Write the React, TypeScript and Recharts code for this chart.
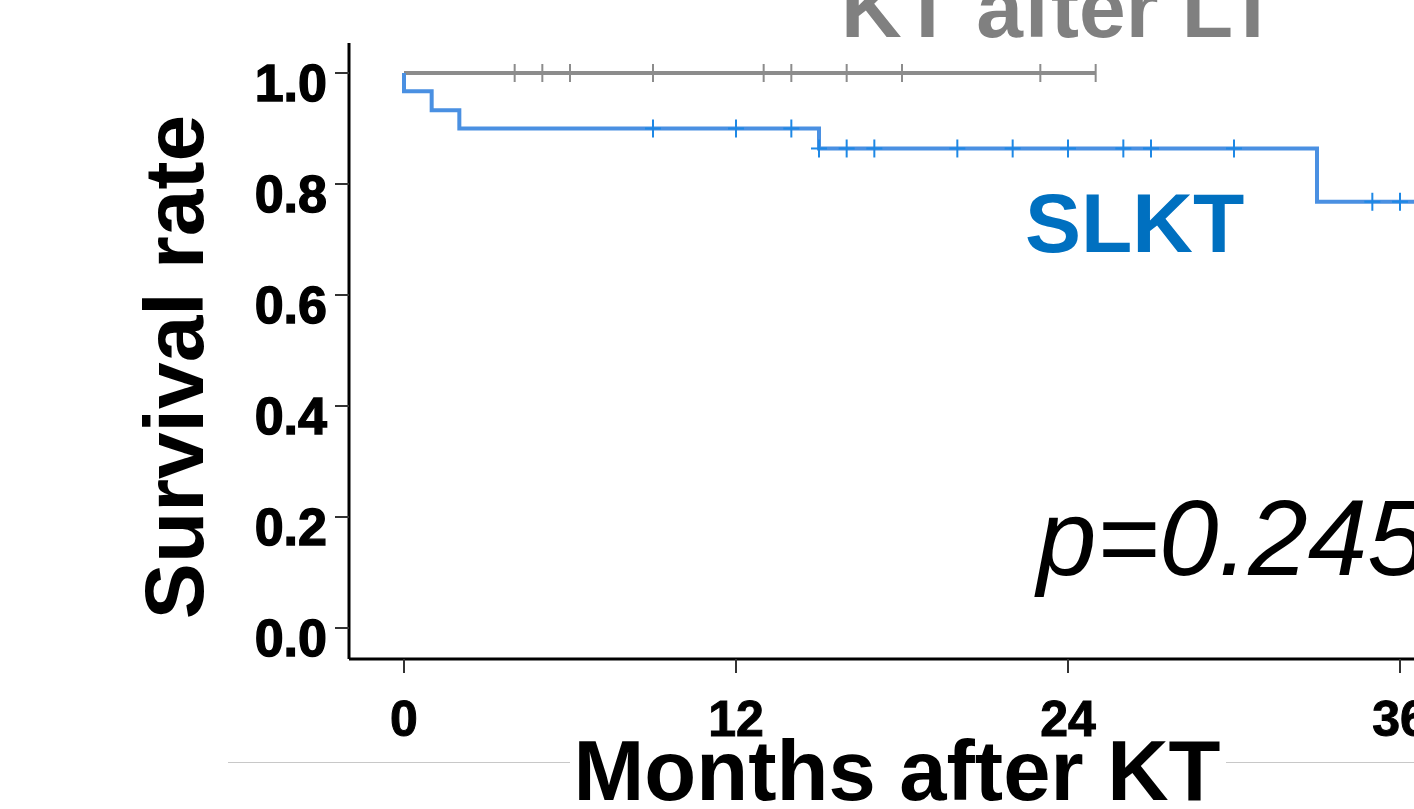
import React from "react";
import { ComposedChart, Line, Scatter, XAxis, YAxis } from "recharts";

// Kaplan-Meier step points (months, survival)
const slktTimes = [0, 0, 1, 2, 15, 33, 37];
const slktSurv = [1.0, 0.967, 0.933, 0.9, 0.864, 0.768, 0.768];
const slktCensor = [9, 12, 14, 15, 16, 17, 20, 22, 24, 26, 27, 30, 35, 36];

const ktltTimes = [0, 25];
const ktltSurv = [1.0, 1.0];
const ktltCensor = [4, 5, 6, 9, 13, 14, 16, 18, 23, 25];

const xTicks = [0, 12, 24, 36, 48];
const yTicks = [0, 0.2, 0.4, 0.6, 0.8, 1.0];

const FONT = "'Liberation Sans', Arial, sans-serif";
const BLUE = "#4A90E2";
const BLUE_TICK = "#1E88E5";
const GRAY = "#8C8C8C";

const toSteps = (ts: number[], ss: number[]) => ts.map((t, i) => ({ t, s: ss[i] }));
const survAt = (ts: number[], ss: number[], t: number) => {
  let v = ss[0];
  for (let i = 0; i < ts.length; i++) if (ts[i] <= t) v = ss[i];
  return v;
};

const slktData = toSteps(slktTimes, slktSurv);
const ktltData = toSteps(ktltTimes, ktltSurv);
const slktCensorData = slktCensor.map((t) => ({ t, s: survAt(slktTimes, slktSurv, t) }));
const ktltCensorData = ktltCensor.map((t) => ({ t, s: survAt(ktltTimes, ktltSurv, t) }));

const PlusMark = (props: any) => {
  const { cx, cy } = props;
  return (
    <g>
      <line x1={cx} y1={cy - 9} x2={cx} y2={cy + 9} stroke={BLUE_TICK} strokeWidth={2} />
      <line x1={cx - 8} y1={cy} x2={cx + 8} y2={cy} stroke={BLUE_TICK} strokeWidth={2} />
    </g>
  );
};

const VMark = (props: any) => {
  const { cx, cy } = props;
  return <line x1={cx} y1={cy - 9} x2={cx} y2={cy + 9} stroke={GRAY} strokeWidth={2} />;
};

const YTick = (props: any) => {
  const { x, y, payload } = props;
  return (
    <text
      x={x - 6}
      y={y + 10 + 18}
      textAnchor="end"
      fontFamily={FONT}
      fontWeight="bold"
      fontSize={52}
      fill="#000"
      stroke="#000"
      strokeWidth={1.4}
    >
      {Number(payload.value).toFixed(1)}
    </text>
  );
};

const XTick = (props: any) => {
  const { x, y, payload } = props;
  return (
    <text
      x={x}
      y={y + 61}
      textAnchor="middle"
      fontFamily={FONT}
      fontWeight="bold"
      fontSize={50}
      fill="#000"
      stroke="#000"
      strokeWidth={1}
    >
      {payload.value}
    </text>
  );
};

export default function App() {
  return (
    <div style={{ position: "fixed", left: 0, top: 0, width: 1414, height: 809, overflow: "hidden", background: "#fff" }}>
      <div style={{ position: "absolute", left: 0, top: 0 }}>
        <ComposedChart width={1760} height={809} margin={{ top: 43, right: 28, bottom: 0, left: 0 }}>
          <XAxis
            dataKey="t"
            type="number"
            domain={[0, 48]}
            ticks={xTicks}
            allowDuplicatedCategory={false}
            padding={{ left: 55, right: 0 }}
            height={150}
            tickSize={14}
            axisLine={{ stroke: "#000", strokeWidth: 3 }}
            tickLine={{ stroke: "#333", strokeWidth: 2 }}
            tick={<XTick />}
          />
          <YAxis
            type="number"
            domain={[0, 1]}
            ticks={yTicks}
            width={349}
            padding={{ top: 30, bottom: 31 }}
            tickSize={14}
            axisLine={{ stroke: "#000", strokeWidth: 3 }}
            tickLine={{ stroke: "#333", strokeWidth: 2 }}
            tick={<YTick />}
          />
          <Line
            data={ktltData}
            dataKey="s"
            type="stepAfter"
            stroke={GRAY}
            strokeWidth={4}
            dot={false}
            activeDot={false}
            isAnimationActive={false}
          />
          <Line
            data={slktData}
            dataKey="s"
            type="stepAfter"
            stroke={BLUE}
            strokeWidth={4}
            dot={false}
            activeDot={false}
            isAnimationActive={false}
          />
          <Scatter data={ktltCensorData} dataKey="s" shape={<VMark />} isAnimationActive={false} />
          <Scatter data={slktCensorData} dataKey="s" shape={<PlusMark />} isAnimationActive={false} />
        </ComposedChart>
      </div>
      <svg
        width={1414}
        height={809}
        style={{ position: "absolute", left: 0, top: 0, pointerEvents: "none" }}
      >
        <line x1={228} y1={762.5} x2={570} y2={762.5} stroke="#c8c8c8" strokeWidth={1} />
        <line x1={1226} y1={762.5} x2={1414} y2={762.5} stroke="#c8c8c8" strokeWidth={1} />
        <text x={841} y={37} fontFamily={FONT} fontWeight="bold" fontSize={84} fill="#808080">
          KT after LT
        </text>
        <text x={1025} y={252} fontFamily={FONT} fontWeight="bold" fontSize={84} fill="#0070C0">
          SLKT
        </text>
        <text x={1037} y={575} fontFamily={FONT} fontStyle="italic" fontSize={107} fill="#000">
          p=0.245
        </text>
        <text x={897} y={800} textAnchor="middle" fontFamily={FONT} fontWeight="bold" fontSize={85} fill="#000">
          Months after KT
        </text>
        <text
          x={203}
          y={367}
          textAnchor="middle"
          transform="rotate(-90, 203, 367)"
          fontFamily={FONT}
          fontWeight="bold"
          fontSize={84}
          fill="#000"
        >
          Survival rate
        </text>
      </svg>
    </div>
  );
}
